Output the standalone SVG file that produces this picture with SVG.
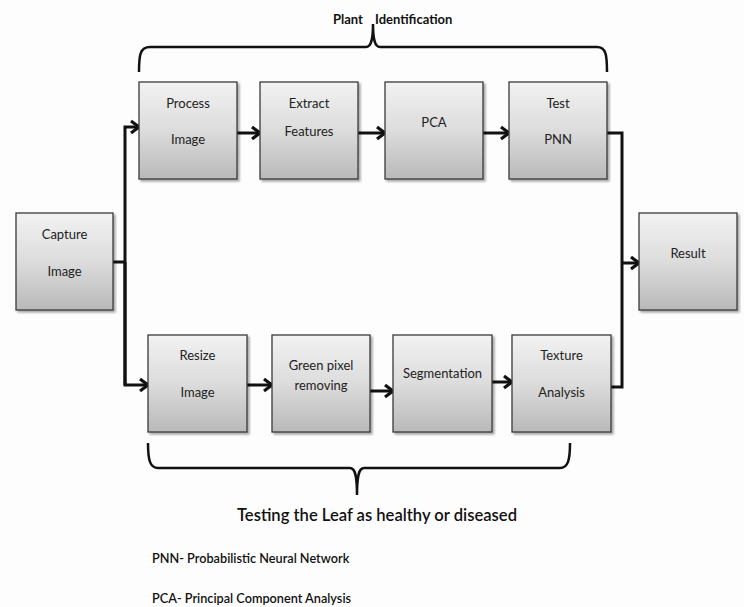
<svg xmlns="http://www.w3.org/2000/svg" width="744" height="607" viewBox="0 0 744 607">
  <defs>
    <linearGradient id="boxFill" x1="0" y1="0" x2="0" y2="1">
      <stop offset="0" stop-color="#f2f2f2"/>
      <stop offset="0.5" stop-color="#dcdcdc"/>
      <stop offset="1" stop-color="#b9b9b9"/>
    </linearGradient>
    <filter id="shadow" x="-10%" y="-10%" width="125%" height="125%">
      <feGaussianBlur in="SourceAlpha" stdDeviation="1.2"/>
      <feOffset dx="1.5" dy="1.5" result="b"/>
      <feComponentTransfer><feFuncA type="linear" slope="0.35"/></feComponentTransfer>
      <feMerge><feMergeNode/><feMergeNode in="SourceGraphic"/></feMerge>
    </filter>
    <marker id="arrow" markerUnits="userSpaceOnUse" markerWidth="14" markerHeight="16" refX="11" refY="8" orient="auto">
      <path d="M3,2 L11,8 L3,14" fill="none" stroke="#111" stroke-width="3.2" stroke-linejoin="miter"/>
    </marker>
  </defs>
  <style>
    .box { fill: url(#boxFill); stroke: #3a3a3a; stroke-width: 1.3; filter: url(#shadow); }
    .lbl { font-family: Lato, "Open Sans", "Liberation Sans", sans-serif; font-size: 13px; fill: #222; text-anchor: middle; }
    .wire { fill: none; stroke: #111; stroke-width: 3; }
    .brace { fill: none; stroke: #111; stroke-width: 2.5; }
    .head { font-family: Lato, "Open Sans", "Liberation Sans", sans-serif; font-weight: bold; fill: #111; }
  </style>
  <rect width="744" height="607" fill="#fdfdfd"/>

  <!-- Braces and captions -->
  <g id="brace-top">
    <path class="brace" d="M139,72 C139,55 140,47 150,47 L366,47 C371,47 373,40 373,24 C373,40 375,47 380,47 L597,47 C606,47 607,55 607,72"/>
    <text class="head" font-size="13" y="24"><tspan x="333">Plant</tspan><tspan x="375">Identification</tspan></text>
  </g>
  <g id="brace-bottom">
    <path class="brace" d="M148,443 C148,460 150,468 158,468 L350,468 C355,468 357,475 357,495 C357,475 359,468 364,468 L560,468 C568,468 570,460 570,443"/>
    <text class="head" font-size="16.6" x="377" y="521" text-anchor="middle" style="font-weight:600">Testing the Leaf as healthy or diseased</text>
  </g>

  <!-- Connectors -->
  <g id="connectors">
    <path class="wire" d="M113,262 H125"/>
    <path class="wire" d="M125,385 V127 H139" marker-end="url(#arrow)"/>
    <path class="wire" d="M125,262 V385 H148" marker-end="url(#arrow)"/>
    <path class="wire" d="M237,133 H260" marker-end="url(#arrow)"/>
    <path class="wire" d="M358,133 H385" marker-end="url(#arrow)"/>
    <path class="wire" d="M483,133 H509" marker-end="url(#arrow)"/>
    <path class="wire" d="M607,133 H622 V387 H611"/>
    <path class="wire" d="M622,263 H639" marker-end="url(#arrow)"/>
    <path class="wire" d="M247,385 H272" marker-end="url(#arrow)"/>
    <path class="wire" d="M370,391 H393" marker-end="url(#arrow)"/>
    <path class="wire" d="M492,382 H512" marker-end="url(#arrow)"/>
  </g>

  <!-- Nodes -->
  <g id="capture-image">
    <rect class="box" x="16" y="213" width="97" height="97"/>
    <text class="lbl" x="64.5" y="239">Capture</text>
    <text class="lbl" x="64.5" y="276">Image</text>
  </g>
  <g id="process-image">
    <rect class="box" x="139" y="82" width="98" height="97"/>
    <text class="lbl" x="188" y="108">Process</text>
    <text class="lbl" x="188" y="144">Image</text>
  </g>
  <g id="extract-features">
    <rect class="box" x="260" y="82" width="98" height="97"/>
    <text class="lbl" x="309" y="108">Extract</text>
    <text class="lbl" x="309" y="136">Features</text>
  </g>
  <g id="pca">
    <rect class="box" x="385" y="82" width="98" height="97"/>
    <text class="lbl" x="434" y="127">PCA</text>
  </g>
  <g id="test-pnn">
    <rect class="box" x="509" y="82" width="98" height="97"/>
    <text class="lbl" x="558" y="108">Test</text>
    <text class="lbl" x="558" y="144">PNN</text>
  </g>
  <g id="resize-image">
    <rect class="box" x="148" y="335" width="99" height="97"/>
    <text class="lbl" x="197.5" y="360">Resize</text>
    <text class="lbl" x="197.5" y="397">Image</text>
  </g>
  <g id="green-pixel-removing">
    <rect class="box" x="272" y="335" width="98" height="97"/>
    <text class="lbl" x="321" y="370">Green pixel</text>
    <text class="lbl" x="321" y="390">removing</text>
  </g>
  <g id="segmentation">
    <rect class="box" x="393" y="335" width="99" height="97"/>
    <text class="lbl" x="442.5" y="378">Segmentation</text>
  </g>
  <g id="texture-analysis">
    <rect class="box" x="512" y="335" width="99" height="97"/>
    <text class="lbl" x="561.5" y="360">Texture</text>
    <text class="lbl" x="561.5" y="397">Analysis</text>
  </g>
  <g id="result">
    <rect class="box" x="639" y="213" width="98" height="97"/>
    <text class="lbl" x="688" y="258">Result</text>
  </g>

  <!-- Abbreviations -->
  <g id="legend">
    <text class="head" font-size="12.7" x="152" y="563" style="font-weight:600">PNN- Probabilistic Neural Network</text>
    <text class="head" font-size="12.7" x="152" y="603" style="font-weight:600">PCA- Principal Component Analysis</text>
  </g>
</svg>
